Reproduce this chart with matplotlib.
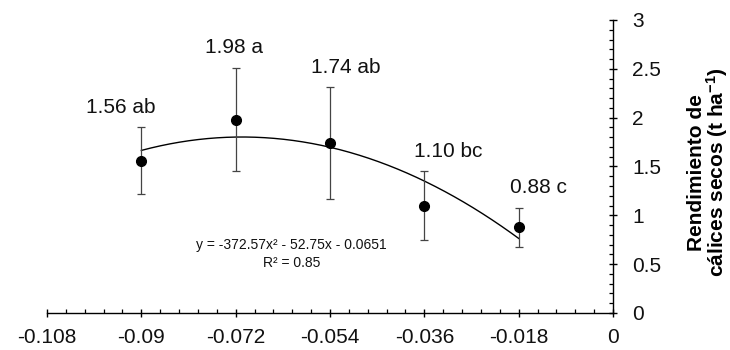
import matplotlib
matplotlib.use("Agg")
import matplotlib.pyplot as plt
import numpy as np
from matplotlib.ticker import MultipleLocator, FuncFormatter

plt.rcParams['font.family'] = ['Liberation Sans', 'DejaVu Sans']
plt.rcParams['mathtext.fontset'] = 'custom'
plt.rcParams['mathtext.rm'] = 'Liberation Sans:bold'
plt.rcParams['mathtext.bf'] = 'Liberation Sans:bold'
plt.rcParams['mathtext.default'] = 'rm'

# ---- data ----
x_vals = [-0.09, -0.072, -0.054, -0.036, -0.018]
y_vals = [1.56, 1.98, 1.74, 1.10, 0.88]
y_err = [0.34, 0.53, 0.57, 0.35, 0.20]
letters = ['ab', 'a', 'ab', 'bc', 'c']
coef = [-372.57, -52.75, -0.0651]   # quadratic trend: a*x^2 + b*x + c
r2 = 0.85
x_ticks = [-0.108, -0.09, -0.072, -0.054, -0.036, -0.018, 0]
y_ticks = [0, 0.5, 1, 1.5, 2, 2.5, 3]

# label offsets (points) for annotations
label_dx = [-15, -1, 11.5, 17, 14.5]

fig = plt.figure(figsize=(7.3, 3.5), dpi=100)
ax = fig.add_axes([47 / 730, 37 / 350, 566 / 730, 293 / 350])

# trend curve
xc = np.linspace(x_vals[0], x_vals[-1], 200)
yc = np.polyval(coef, xc)
ax.plot(xc, yc, color='black', lw=1.0, zorder=2)

# error bars + points
ax.errorbar(x_vals, y_vals, yerr=y_err, fmt='none', ecolor='#444444',
            elinewidth=0.9, capsize=3.2, capthick=0.9, zorder=3)
ax.plot(x_vals, y_vals, 'o', color='black', ms=7, zorder=4)

for xv, yv, ev, lt, dx in zip(x_vals, y_vals, y_err, letters, label_dx):
    ax.annotate(f"{yv:.2f} {lt}", xy=(xv, yv + ev), xytext=(dx, 14.5),
                textcoords='offset points', ha='center', va='center',
                fontsize=15, color='#111111')

ax.text(-0.0613, 0.70, "y = -372.57x² - 52.75x - 0.0651", ha='center', va='center',
        fontsize=10, color='#111111')
ax.text(-0.0613, 0.51, f"R² = {r2:.2f}", ha='center', va='center',
        fontsize=10, color='#111111')

ax.set_xlim(-0.108, 0)
ax.set_ylim(0, 3)

for s in ['top', 'left']:
    ax.spines[s].set_visible(False)
ax.spines['right'].set_position(('data', 0))
for s in ['bottom', 'right']:
    ax.spines[s].set_linewidth(1.0)

ax.yaxis.tick_right()
ax.yaxis.set_label_position('right')
ax.set_xticks(x_ticks)
ax.set_yticks(y_ticks)
ax.xaxis.set_major_formatter(FuncFormatter(lambda v, p: '0' if abs(v) < 1e-12 else f"{v:g}"))
ax.yaxis.set_major_formatter(FuncFormatter(lambda v, p: f"{v:g}"))
ax.xaxis.set_minor_locator(MultipleLocator(0.0036))
ax.yaxis.set_minor_locator(MultipleLocator(0.1))

ax.tick_params(axis='x', which='major', direction='inout', length=6, width=1,
               labelsize=15, pad=8, colors='black', labelcolor='#111111')
ax.tick_params(axis='x', which='minor', direction='in', length=3, width=0.9)
ax.tick_params(axis='y', which='major', direction='inout', length=6, width=1,
               labelsize=15, pad=11, labelcolor='#111111')
ax.tick_params(axis='y', which='minor', direction='in', length=3, width=0.9)

ax.set_ylabel("Rendimiento de\ncálices secos (t ha$^{-1}$)", fontsize=15,
              fontweight='bold', rotation=90, linespacing=0.95)
ax.yaxis.set_label_coords(1.13, 0.48)

fig.savefig('out.png', dpi=100)
